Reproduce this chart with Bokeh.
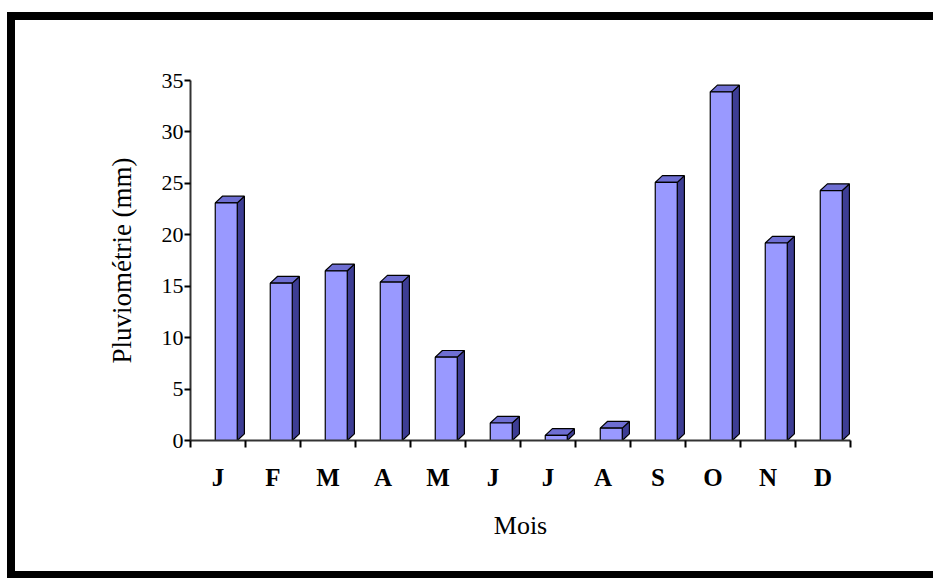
import numpy as np
from bokeh.plotting import figure
from bokeh.models import FixedTicker, Range1d, ColumnDataSource
from bokeh.embed import file_html
from bokeh.resources import INLINE

# ---- data ----
months = ["J", "F", "M", "A", "M", "J", "J", "A", "S", "O", "N", "D"]
rain_mm = [23.1, 15.3, 16.5, 15.4, 8.1, 1.7, 0.5, 1.2, 25.1, 33.9, 19.2, 24.3]
y_ticks = [0, 5, 10, 15, 20, 25, 30, 35]

FONT = "Liberation Serif"

p = figure(width=918, height=551, output_backend="svg", toolbar_location=None,
           x_range=Range1d(0, 12), y_range=Range1d(0, 35),
           min_border_left=175, min_border_right=91,
           min_border_top=60, min_border_bottom=146,
           background_fill_color="white", border_fill_color="white")
p.outline_line_color = None
p.grid.visible = False
p.styles = {"box-sizing": "content-box",
            "border-top": "8px solid black", "border-left": "8px solid black",
            "border-bottom": "7px solid black", "margin-top": "12px",
            "margin-left": "7px", "overflow": "hidden"}

# 3D-looking columns built from the data
idx = np.arange(len(rain_mm))
vals = np.array(rain_mm, dtype=float)
w = 0.40          # front face width (category units)
dx, dy = 0.13, 0.65  # depth offsets
left = idx + 0.45
right = left + w

side_xs = [[r, r + dx, r + dx, r] for r in right]
side_ys = [[0, dy, v + dy, v] for v in vals]
top_xs = [[l, l + dx, r + dx, r] for l, r in zip(left, right)]
top_ys = [[v, v + dy, v + dy, v] for v in vals]

p.patches(side_xs, side_ys, fill_color="#3d3d94", line_color="black", line_width=1.2)
p.patches(top_xs, top_ys, fill_color="#6e6ed2", line_color="black", line_width=1.2)
src = ColumnDataSource(dict(x=(left + right) / 2, top=vals))
p.vbar(x="x", top="top", width=w, bottom=0, source=src,
       fill_color="#9999FF", line_color="black", line_width=1.2)

# x axis: labels at centers, tick marks at category boundaries
xt = FixedTicker(ticks=list(idx + 0.5), minor_ticks=list(range(0, 13)))
p.xaxis.ticker = xt
p.xaxis.major_label_overrides = {float(i + 0.5): m for i, m in enumerate(months)}
p.xaxis.major_tick_out = 0
p.xaxis.major_tick_in = 0
p.xaxis.minor_tick_out = 7
p.xaxis.minor_tick_in = 0
p.xaxis.minor_tick_line_color = "black"
p.xaxis.minor_tick_line_width = 2
p.xaxis.axis_line_color = "#333333"
p.xaxis.axis_line_width = 2
p.xaxis.major_label_standoff = 16
p.xaxis.major_label_text_font = FONT
p.xaxis.major_label_text_font_style = "bold"
p.xaxis.major_label_text_font_size = "25px"
p.xaxis.major_label_text_color = "black"
p.xaxis.axis_label = "Mois"
p.xaxis.axis_label_text_font = FONT
p.xaxis.axis_label_text_font_style = "normal"
p.xaxis.axis_label_text_font_size = "26px"
p.xaxis.axis_label_text_color = "black"
p.xaxis.axis_label_standoff = 17

# y axis
p.yaxis.ticker = FixedTicker(ticks=y_ticks, minor_ticks=[])
p.yaxis.major_tick_out = 6
p.yaxis.major_tick_in = 0
p.yaxis.major_tick_line_color = "black"
p.yaxis.major_tick_line_width = 2
p.yaxis.axis_line_color = "#333333"
p.yaxis.axis_line_width = 2
p.yaxis.major_label_standoff = 1
p.yaxis.major_label_text_font = FONT
p.yaxis.major_label_text_font_size = "22px"
p.yaxis.major_label_text_color = "black"
p.yaxis.axis_label = "Pluviométrie (mm)"
p.yaxis.axis_label_text_font = FONT
p.yaxis.axis_label_text_font_style = "normal"
p.yaxis.axis_label_text_font_size = "27px"
p.yaxis.axis_label_text_color = "black"
p.yaxis.axis_label_standoff = 22

open("out.html", "w").write(file_html(p, INLINE))
